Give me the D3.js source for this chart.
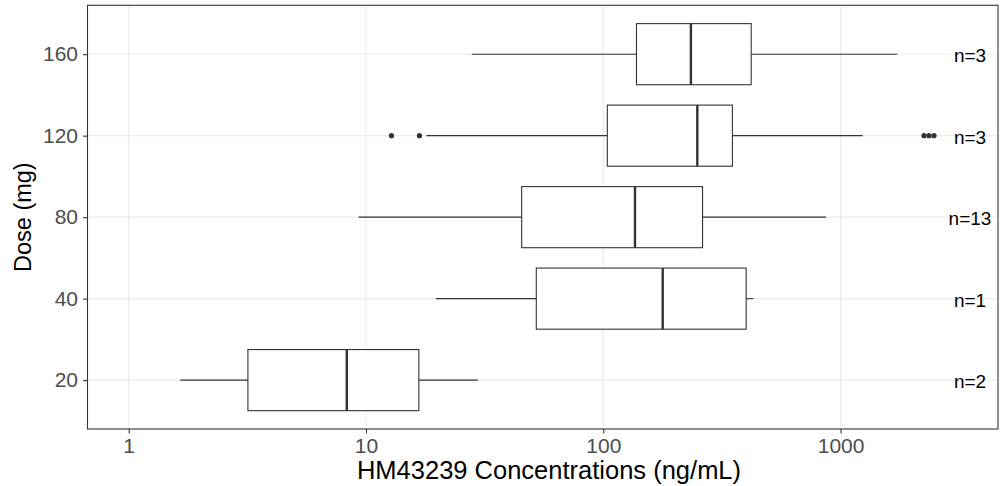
<!DOCTYPE html>
<html>
<head>
<meta charset="utf-8">
<title>HM43239 Concentrations by Dose</title>
<style>
  body { margin: 0; background: #fff; }
  svg text { font-family: "Liberation Sans", Arial, sans-serif; }
</style>
</head>
<body>
<div id="chart"></div>
<script src="https://cdnjs.cloudflare.com/ajax/libs/d3/7.8.5/d3.min.js"></script>
<script>
// dose groups, bottom to top
const doses = ["20", "40", "80", "120", "160"];
const whiskerLow = [1.65, 19.7, 9.3, 18.0, 27.9];
const q1 = [3.18, 52.2, 45.3, 104, 138];
const median = [8.3, 178, 136, 249, 234];
const q3 = [16.7, 400, 262, 350, 420];
const whiskerHigh = [29.6, 429, 868, 1239, 1733];
const outliers = [[], [], [], [12.8, 16.8, 2246, 2358, 2475], []];
const nLabels = ["n=2", "n=1", "n=13", "n=3", "n=3"];
const xTicks = [1, 10, 100, 1000];

const W = 1000, H = 486;
const panel = {left: 87.5, right: 998, top: 5.3, bottom: 429};

const svg = d3.select('#chart').append('svg')
  .attr('width', W)
  .attr('height', H);

const x = d3.scaleLog()
  .domain([0.6706, 4606])
  .range([panel.left, panel.right]);

const y = d3.scalePoint()
  .domain(doses)
  .range([panel.bottom, panel.top])
  .padding(0.6);

const boxH = y.step() * 0.75;

// grid
svg.append('g').selectAll('line')
  .data(xTicks)
  .join('line')
    .attr('x1', d => x(d)).attr('x2', d => x(d))
    .attr('y1', panel.top).attr('y2', panel.bottom)
    .attr('stroke', '#ebebeb').attr('stroke-width', 1.1);

svg.append('g').selectAll('line')
  .data(doses)
  .join('line')
    .attr('x1', panel.left).attr('x2', panel.right)
    .attr('y1', d => y(d)).attr('y2', d => y(d))
    .attr('stroke', '#ebebeb').attr('stroke-width', 1.1);

const boxes = doses.map((d, i) => ({
  dose: d, lo: whiskerLow[i], q1: q1[i], med: median[i], q3: q3[i], hi: whiskerHigh[i],
  out: outliers[i], n: nLabels[i]
}));

const g = svg.append('g').selectAll('g')
  .data(boxes)
  .join('g');

// whiskers
g.append('line')
  .attr('x1', d => x(d.lo)).attr('x2', d => x(d.q1))
  .attr('y1', d => y(d.dose)).attr('y2', d => y(d.dose))
  .attr('stroke', '#333').attr('stroke-width', 1.1);
g.append('line')
  .attr('x1', d => x(d.q3)).attr('x2', d => x(d.hi))
  .attr('y1', d => y(d.dose)).attr('y2', d => y(d.dose))
  .attr('stroke', '#333').attr('stroke-width', 1.1);

// box
g.append('rect')
  .attr('x', d => x(d.q1))
  .attr('y', d => y(d.dose) - boxH / 2)
  .attr('width', d => x(d.q3) - x(d.q1))
  .attr('height', boxH)
  .attr('fill', '#fff')
  .attr('stroke', '#333').attr('stroke-width', 1.1);

// median
g.append('line')
  .attr('x1', d => x(d.med)).attr('x2', d => x(d.med))
  .attr('y1', d => y(d.dose) - boxH / 2).attr('y2', d => y(d.dose) + boxH / 2)
  .attr('stroke', '#333').attr('stroke-width', 2.4);

// outliers
g.selectAll('circle')
  .data(d => d.out.map(v => ({v, dose: d.dose})))
  .join('circle')
    .attr('cx', d => x(d.v))
    .attr('cy', d => y(d.dose))
    .attr('r', 2.6)
    .attr('fill', '#333');

// n labels
g.append('text')
  .attr('x', 970)
  .attr('y', d => y(d.dose) + 8)
  .attr('text-anchor', 'middle')
  .style('font-size', '19px')
  .attr('fill', '#000')
  .text(d => d.n);

// panel border
svg.append('rect')
  .attr('x', panel.left).attr('y', panel.top)
  .attr('width', panel.right - panel.left)
  .attr('height', panel.bottom - panel.top)
  .attr('fill', 'none')
  .attr('stroke', '#333').attr('stroke-width', 1.1);

// axes
const xAxis = svg.append('g')
  .attr('transform', `translate(0,${panel.bottom})`)
  .call(d3.axisBottom(x).tickValues(xTicks).tickFormat(d3.format('d')).tickSize(4.5).tickPadding(5));
const yAxis = svg.append('g')
  .attr('transform', `translate(${panel.left},0)`)
  .call(d3.axisLeft(y).tickSize(4.5).tickPadding(5));

[xAxis, yAxis].forEach(a => {
  a.select('.domain').remove();
  a.selectAll('.tick line').attr('stroke', '#333').attr('stroke-width', 1.1);
  a.selectAll('.tick text')
    .attr('fill', '#4d4d4d')
    .style('font-size', '21px')
    .style('font-family', '"Liberation Sans", Arial, sans-serif');
});

// axis titles
svg.append('text')
  .attr('x', 549)
  .attr('y', 479)
  .attr('text-anchor', 'middle')
  .style('font-size', '25.5px')
  .attr('fill', '#000')
  .text('HM43239 Concentrations (ng/mL)');

svg.append('text')
  .attr('transform', `translate(31,${(panel.top + panel.bottom) / 2}) rotate(-90)`)
  .attr('text-anchor', 'middle')
  .style('font-size', '23.5px')
  .attr('fill', '#000')
  .text('Dose (mg)');
</script>
</body>
</html>
